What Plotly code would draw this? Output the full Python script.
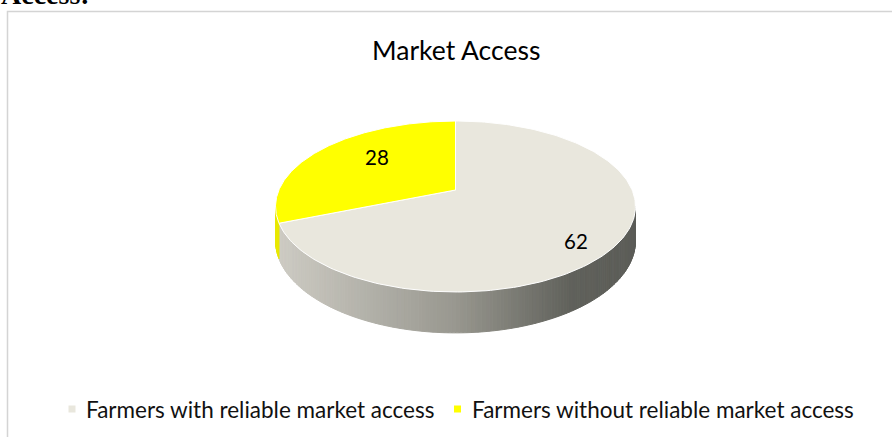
import numpy as np
import plotly.graph_objects as go

# ---- data ----
categories = ["Farmers with reliable market access", "Farmers without reliable market access"]
values = [62, 28]
slice_colors = ["#E9E7DD", "#FFFF00"]
side_yellow = "#E8E800"
title_text = "Market Access"

# ---- canvas ----
W, H = 892, 437

# ---- 3D pie geometry (pixel space, y grows downward) ----
cx, cy = 455.5, 190.0      # projected centre of the top face
ra, rb = 176.6, 82.3        # horizontal / vertical radii before perspective
persp = 0.193               # perspective strength (near side larger)
depth = 33.0                # thickness of the disc
start_deg = -90.0           # first slice starts at twelve o'clock


def proj(t, drop=0.0):
    w = 1.0 - persp * np.sin(t)
    return cx + ra * np.cos(t) / w, cy + (rb * np.sin(t) + drop) / w


total = float(sum(values))
bounds = [start_deg]
for v in values:
    bounds.append(bounds[-1] + v / total * 360.0)
bounds = np.radians(bounds)

fig = go.Figure()

# side wall: visible between the two silhouette angles
t_lo = np.arcsin(persp)
t_hi = np.pi - np.arcsin(persp)
n_strips = 160
edges = np.linspace(t_lo, t_hi, n_strips + 1)

x_left = cx - ra / np.sqrt(1 - persp ** 2)
x_right = cx + ra / np.sqrt(1 - persp ** 2)
grad_u = [0.0, 0.5, 0.82, 1.0]
grad_rgb = np.array([[206, 204, 196], [152, 151, 143], [96, 97, 91], [92, 93, 88]])


def side_color(x, slice_idx):
    if slice_idx == 1:
        return side_yellow
    u = np.clip((x - x_left) / (x_right - x_left), 0, 1)
    rgb = [np.interp(u, grad_u, grad_rgb[:, c]) for c in range(3)]
    return "rgb(%d,%d,%d)" % tuple(int(round(c)) for c in rgb)


def slice_of(t):
    # map an angle to the slice it belongs to
    tt = t
    while tt < bounds[0]:
        tt += 2 * np.pi
    while tt >= bounds[0] + 2 * np.pi:
        tt -= 2 * np.pi
    for i in range(len(values)):
        if bounds[i] <= tt < bounds[i + 1]:
            return i
    return len(values) - 1


for i in range(n_strips):
    t0, t1 = edges[i], edges[i + 1]
    ts = np.linspace(t0, t1, 3)
    xt, yt = proj(ts)
    xb, yb = proj(ts[::-1], depth)
    xs = np.concatenate([xt, xb, xt[:1]])
    ys = np.concatenate([yt, yb, yt[:1]])
    col = side_color(xt.mean(), slice_of((t0 + t1) / 2))
    fig.add_trace(go.Scatter(x=xs, y=ys, mode="lines", fill="toself",
                             fillcolor=col, line=dict(color=col, width=1),
                             hoverinfo="skip", showlegend=False))

# top faces
for i in range(len(values)):
    ts = np.linspace(bounds[i], bounds[i + 1], 200)
    xa, ya = proj(ts)
    xs = np.concatenate([[cx], xa, [cx]])
    ys = np.concatenate([[cy], ya, [cy]])
    fig.add_trace(go.Scatter(x=xs, y=ys, mode="lines", fill="toself",
                             fillcolor=slice_colors[i],
                             line=dict(color="white", width=1),
                             hoverinfo="skip", showlegend=False))

# data labels
label_r = [0.82, 0.65]
label_shift = np.radians(8)
for i, v in enumerate(values):
    tm = (bounds[i] + bounds[i + 1]) / 2 + label_shift
    r = label_r[i]
    w = 1.0 - persp * r * np.sin(tm)
    lx = cx + ra * r * np.cos(tm) / w
    ly = cy + rb * r * np.sin(tm) / w
    fig.add_annotation(x=lx, y=ly, text=str(v), showarrow=False,
                       font=dict(family="Lato", size=20.5, color="#000000"),
                       xanchor="center", yanchor="middle")

# legend (manual)
leg_marker_x = [72, 457.5]
leg_y = 409
fig.add_trace(go.Scatter(x=leg_marker_x, y=[leg_y, leg_y], mode="markers",
                         marker=dict(symbol="square", size=7, color=slice_colors,
                                     line=dict(width=0)),
                         hoverinfo="skip", showlegend=False))
for mx, name in zip(leg_marker_x, categories):
    fig.add_annotation(x=mx + 12, y=leg_y, text=name, showarrow=False,
                       xanchor="left", yanchor="middle",
                       font=dict(family="Lato", size=22.5, color="#111111"))

# title
fig.add_annotation(x=455.5, y=50, text=title_text, showarrow=False,
                   xanchor="center", yanchor="middle",
                   font=dict(family="Lato", size=26.5, color="#000000"))

# heading text above the chart frame (mostly cut off by the page top)
fig.add_annotation(xref="paper", yref="paper", x=-1 / W, y=1 + 5 / H,
                   text="<b>Access:</b>", showarrow=False,
                   xanchor="left", yanchor="middle",
                   font=dict(family="Liberation Serif", size=28, color="#000000"))

# chart frame
fig.add_shape(type="rect", x0=7.5, y0=11.5, x1=W + 10, y1=H + 10,
              line=dict(color="#D4D4D4", width=1.5), fillcolor="rgba(0,0,0,0)",
              layer="below")

fig.update_layout(
    width=W, height=H,
    margin=dict(l=0, r=0, t=0, b=0),
    paper_bgcolor="white", plot_bgcolor="white",
    xaxis=dict(range=[0, W], visible=False, fixedrange=True),
    yaxis=dict(range=[H, 0], visible=False, fixedrange=True),
    showlegend=False,
)

fig.write_html("out.html")
